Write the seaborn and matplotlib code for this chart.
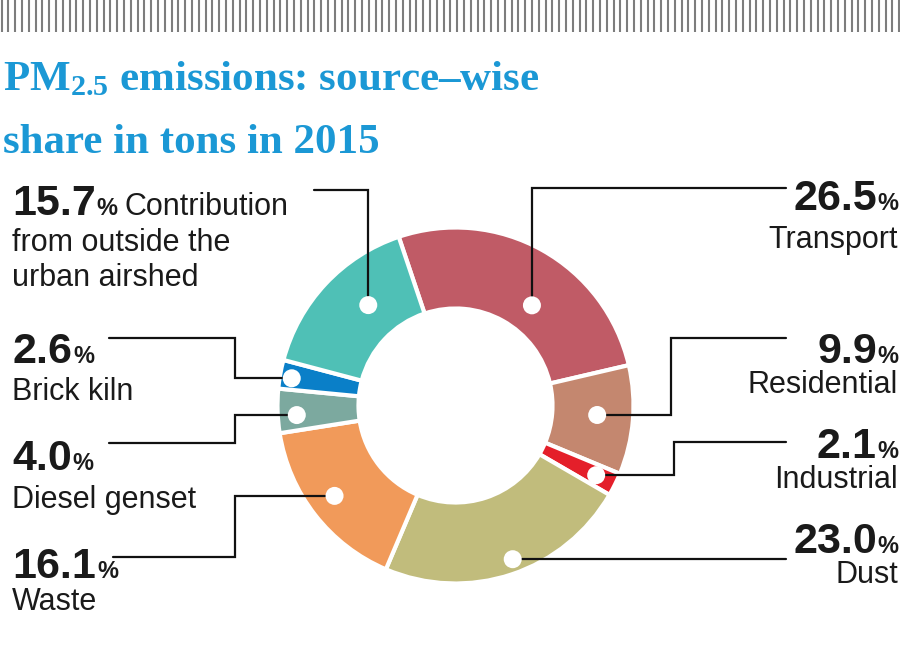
#!/usr/bin/env python3
# coding=utf-8

import matplotlib
matplotlib.use("Agg")
from matplotlib import pyplot as plt
from matplotlib import font_manager
from matplotlib.patches import Circle
import seaborn as sns
import numpy as np

# data, clockwise from the top of the ring
sources = ["Transport", "Residential", "Industrial", "Dust", "Waste",
           "Diesel genset", "Brick kiln",
           "Contribution\nfrom outside the\nurban airshed"]
shares = [26.5, 9.9, 2.1, 23.0, 16.1, 4.0, 2.6, 15.7]
slice_colors = ["#c05b66", "#c4876f", "#e41f2a", "#c1bc7c",
                "#f19a5a", "#7ca99f", "#0a7fc8", "#4fc0b6"]
title_lines = [r"PM$_{\mathrm{2.5}}$ emissions: source–wise",
               "share in tons in 2015"]

W, H = 900, 668
CX, CY = 455.5, 405.5       # ring centre in picture pixels (y downwards)
R_OUT, R_IN = 178, 97

# label placement (picture pixels, y downwards)
# kind: "v" = last segment vertical into the dot, "h" = elbow, "s" = straight
layout = [
    dict(side="R", num_y=210, lab_y=[248], end_x=786, line_y=188, kind="v", d_ang=-8.2, d_r=126),
    dict(side="R", num_y=363, lab_y=[393], end_x=786, line_y=338, kind="h", elbow=671, d_ang=0.9, d_r=142),
    dict(side="R", num_y=458, lab_y=[488], end_x=786, line_y=442, kind="h", elbow=674, d_ang=0.0, d_r=157),
    dict(side="R", num_y=553, lab_y=[583], end_x=786, line_y=None, kind="s", d_ang=2.0, d_r=164),
    dict(side="L", num_y=578, lab_y=[610], end_x=113, line_y=557, kind="h", elbow=235, d_ang=-1.2, d_r=151),
    dict(side="L", num_y=470, lab_y=[508], end_x=109, line_y=443, kind="h", elbow=235, d_ang=1.7, d_r=159),
    dict(side="L", num_y=363, lab_y=[400], end_x=109, line_y=338, kind="h", elbow=235, d_ang=0.7, d_r=166),
    dict(side="L", num_y=215, lab_y=[215, 251, 286], end_x=314, line_y=190, kind="v", d_ang=-5.9, d_r=133,
         inline=True),
]

sns.set_theme(style="white")
installed = {f.name for f in font_manager.fontManager.ttflist}
num_font = "Liberation Sans Narrow" if "Liberation Sans Narrow" in installed else "Liberation Sans"
num_size = 38 if num_font == "Liberation Sans Narrow" else 31
plt.rcParams["font.family"] = ["Liberation Sans", "DejaVu Sans"]
plt.rcParams["mathtext.fontset"] = "custom"
plt.rcParams["mathtext.rm"] = "Liberation Serif:bold"
plt.rcParams["mathtext.it"] = "Liberation Serif:bold"
plt.rcParams["mathtext.bf"] = "Liberation Serif:bold"

TXT = "#1a1a1a"


def Y(y):
    return H - y  # picture y (down) -> axes y (up)


fig = plt.figure(figsize=(W / 100, H / 100), dpi=100, facecolor="white")
ax = fig.add_axes([0, 0, 1, 1])

wedges, _ = ax.pie(shares, colors=sns.color_palette(slice_colors), startangle=108.6,
                   counterclock=False, radius=R_OUT, center=(CX, Y(CY)),
                   wedgeprops=dict(width=R_OUT - R_IN, edgecolor="white", linewidth=3))
ax.set_xlim(0, W)
ax.set_ylim(0, H)
ax.set_aspect("auto")
ax.axis("off")

# grey stripe header
ax.vlines(np.arange(1.5, W, 6.8), Y(32), Y(0), color="#7d7d7d", lw=1.5)

# title
for line, base in zip(title_lines, [90, 153]):
    ax.text(3, Y(base), line, fontsize=31, family="Liberation Serif", weight="bold",
            color="#1b98d5", va="baseline", ha="left")

renderer = fig.canvas.get_renderer()
pct_probe = ax.text(0, 0, "%", fontsize=17, family=num_font, weight="bold")
pct_w = pct_probe.get_window_extent(renderer).width
pct_probe.remove()

for wedge, name, value, lay in zip(wedges, sources, shares, layout):
    # white dot on the slice
    ang = np.deg2rad((wedge.theta1 + wedge.theta2) / 2 + lay["d_ang"])
    dx = CX + lay["d_r"] * np.cos(ang)
    dy = CY - lay["d_r"] * np.sin(ang)
    ax.add_patch(Circle((dx, Y(dy)), 9, facecolor="white", edgecolor="none", zorder=5))

    # leader line
    if lay["kind"] == "v":
        pts = [(lay["end_x"], lay["line_y"]), (dx, lay["line_y"]), (dx, dy)]
    elif lay["kind"] == "h":
        pts = [(lay["end_x"], lay["line_y"]), (lay["elbow"], lay["line_y"]),
               (lay["elbow"], dy), (dx, dy)]
    else:
        pts = [(lay["end_x"], dy), (dx, dy)]
    ax.plot([p[0] for p in pts], [Y(p[1]) for p in pts], color="#111111", lw=1.6,
            solid_joinstyle="miter", zorder=4)

    # share value + small %
    lines = name.split("\n")
    num = f"{value:.1f}"
    if lay["side"] == "R":
        ax.text(W - 2, Y(lay["num_y"]), "%", fontsize=17, family=num_font, weight="bold",
                color=TXT, ha="right", va="baseline")
        ax.text(W - 2 - pct_w, Y(lay["num_y"]), num, fontsize=num_size, family=num_font,
                weight="bold", color=TXT, ha="right", va="baseline")
        for ln, ly in zip(lines, lay["lab_y"]):
            ax.text(W - 2, Y(ly), ln, fontsize=22, color=TXT, ha="right", va="baseline")
    else:
        t = ax.text(12, Y(lay["num_y"]), num, fontsize=num_size, family=num_font,
                    weight="bold", color=TXT, ha="left", va="baseline")
        nx = 12 + t.get_window_extent(renderer).width
        ax.text(nx + 1, Y(lay["num_y"]), "%", fontsize=17, family=num_font, weight="bold",
                color=TXT, ha="left", va="baseline")
        for i, (ln, ly) in enumerate(zip(lines, lay["lab_y"])):
            lx = nx + pct_w + 8 if (i == 0 and lay.get("inline")) else 12
            ax.text(lx, Y(ly), ln, fontsize=22, color=TXT, ha="left", va="baseline")

fig.savefig("out.png", dpi=100, facecolor="white")
plt.close(fig)
